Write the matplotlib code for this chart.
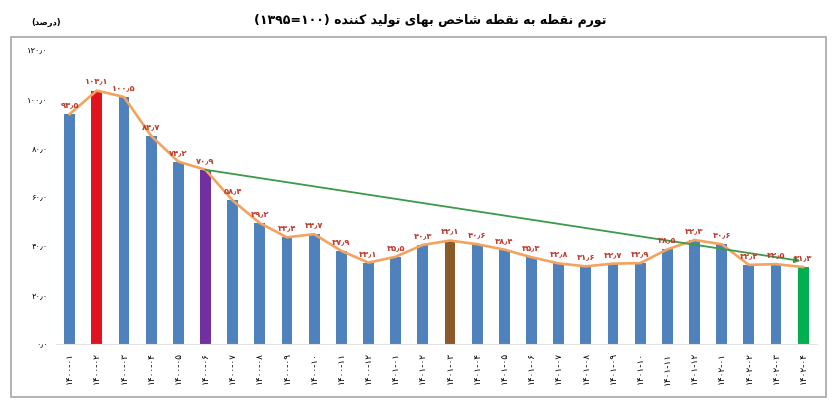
import re
import matplotlib
matplotlib.use("Agg")
import matplotlib.pyplot as plt
from matplotlib.patches import Rectangle

# data (percent, point-to-point PPI inflation)
months = ["۱۴۰۰-۰۱", "۱۴۰۰-۰۲", "۱۴۰۰-۰۳", "۱۴۰۰-۰۴", "۱۴۰۰-۰۵", "۱۴۰۰-۰۶",
          "۱۴۰۰-۰۷", "۱۴۰۰-۰۸", "۱۴۰۰-۰۹", "۱۴۰۰-۱۰", "۱۴۰۰-۱۱", "۱۴۰۰-۱۲",
          "۱۴۰۱-۰۱", "۱۴۰۱-۰۲", "۱۴۰۱-۰۳", "۱۴۰۱-۰۴", "۱۴۰۱-۰۵", "۱۴۰۱-۰۶",
          "۱۴۰۱-۰۷", "۱۴۰۱-۰۸", "۱۴۰۱-۰۹", "۱۴۰۱-۱۰", "۱۴۰۱-۱۱", "۱۴۰۱-۱۲",
          "۱۴۰۲-۰۱", "۱۴۰۲-۰۲", "۱۴۰۲-۰۳", "۱۴۰۲-۰۴"]
values = [93.5, 103.1, 100.5, 84.7, 74.2, 70.9, 58.4, 49.2, 43.4, 44.7,
          37.9, 33.1, 35.5, 40.3, 42.1, 40.6, 38.4, 35.3, 32.8, 31.6,
          32.7, 32.9, 38.5, 42.3, 40.6, 32.2, 32.5, 31.3]
highlight = {1: "#E0141E", 5: "#7030A0", 14: "#8B5A2B", 27: "#00B050"}
yticks = [0, 20, 40, 60, 80, 100, 120]

TITLE = "تورم نقطه به نقطه شاخص بهای تولید کننده (۱۰۰=۱۳۹۵)"
UNIT = "(درصد)"

# contextual forms: (isolated, final, initial, medial); 2-tuple = joins right only
FORMS = {
    "ا": ("\uFE8D", "\uFE8E"), "د": ("\uFEA9", "\uFEAA"), "ر": ("\uFEAD", "\uFEAE"),
    "و": ("\uFEED", "\uFEEE"),
    "ب": ("\uFE8F", "\uFE90", "\uFE91", "\uFE92"), "ت": ("\uFE95", "\uFE96", "\uFE97", "\uFE98"),
    "خ": ("\uFEA5", "\uFEA6", "\uFEA7", "\uFEA8"), "ش": ("\uFEB5", "\uFEB6", "\uFEB7", "\uFEB8"),
    "ص": ("\uFEB9", "\uFEBA", "\uFEBB", "\uFEBC"), "ط": ("\uFEC1", "\uFEC2", "\uFEC3", "\uFEC4"),
    "ق": ("\uFED5", "\uFED6", "\uFED7", "\uFED8"), "ل": ("\uFEDD", "\uFEDE", "\uFEDF", "\uFEE0"),
    "م": ("\uFEE1", "\uFEE2", "\uFEE3", "\uFEE4"), "ن": ("\uFEE5", "\uFEE6", "\uFEE7", "\uFEE8"),
    "ه": ("\uFEE9", "\uFEEA", "\uFEEB", "\uFEEC"), "ی": ("\uFBFC", "\uFBFD", "\uFBFE", "\uFBFF"),
    "ک": ("\uFB8E", "\uFB8F", "\uFB90", "\uFB91"),
}


def farsi(s):
    """shape letters and put the string in visual (left-to-right) order."""
    out = []
    for i, c in enumerate(s):
        if c not in FORMS:
            out.append(c); continue
        f = FORMS[c]
        prev = s[i - 1] if i > 0 else ""
        nxt = s[i + 1] if i + 1 < len(s) else ""
        jp = prev in FORMS and len(FORMS[prev]) == 4
        jn = len(f) == 4 and nxt in FORMS
        out.append(f[3] if jp and jn else f[1] if jp else f[2] if jn else f[0])
    vis = "".join(out)[::-1].translate(str.maketrans("()", ")("))
    return re.sub(r"[۰-۹٫]+", lambda m: m.group(0)[::-1], vis)


def fa_num(v, nd=1):
    return f"{v:.{nd}f}".translate(str.maketrans("0123456789.", "۰۱۲۳۴۵۶۷۸۹٫"))


plt.rcParams["font.family"] = ["DejaVu Sans"]
fig = plt.figure(figsize=(8.36, 4.12), dpi=100)
ax = fig.add_axes([0.067, 0.165, 0.91, 0.716])

x = list(range(len(values)))
colors = [highlight.get(i, "#4F81BD") for i in x]
ax.bar(x, values, width=0.4, color=colors, zorder=2)
ax.plot(x, values, color="#F2A35E", lw=1.9, zorder=3)
for i, v in zip(x, values):
    ax.text(i, v + 2.0, fa_num(v), ha="center", va="bottom", fontsize=6,
            color="#C0392B", fontweight="bold", zorder=4)

# trend arrow from the purple bar to the green bar
ax.annotate("", xy=(x[-1] - 0.1, values[-1] + 2.5), xytext=(x[5], values[5]),
            arrowprops=dict(arrowstyle="-|>", color="#3C9A4A", lw=1.3,
                            mutation_scale=8, shrinkA=0, shrinkB=0), zorder=3)

ax.set_xlim(-0.5, len(values) - 0.5)
ax.set_ylim(0, 120)
ax.set_yticks(yticks)
ax.set_yticklabels([fa_num(t) for t in yticks], fontsize=6)
ax.set_xticks(x)
ax.set_xticklabels(months, rotation=90, fontsize=6.5)
ax.tick_params(length=0, pad=6)
for s in ["top", "right", "left"]:
    ax.spines[s].set_visible(False)
ax.spines["bottom"].set_color("#E3E3E3")

fig.patches.append(Rectangle((0.013, 0.036), 0.975, 0.873, transform=fig.transFigure,
                             fill=False, edgecolor="#A6A6A6", lw=1.2))
fig.text(0.515, 0.952, farsi(TITLE), ha="center", va="center", fontsize=9,
         fontweight="bold")
fig.text(0.055, 0.945, farsi(UNIT), ha="center", va="center", fontsize=6,
         fontweight="bold")

fig.savefig("out.png", dpi=100)
